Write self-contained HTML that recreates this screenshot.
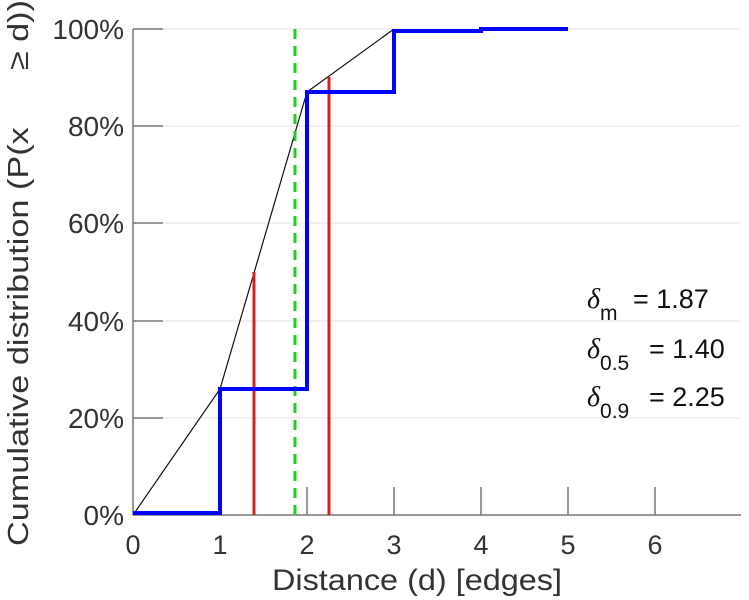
<!DOCTYPE html>
<html><head><meta charset="utf-8"><style>body{margin:0;background:#fff}svg{display:block}text{font-family:"Liberation Sans",sans-serif;fill:#333}</style></head><body>
<svg width="749" height="600" viewBox="0 0 749 600">
<g stroke="#e6e6e6" stroke-width="1">
<line x1="133" y1="29" x2="741" y2="29"/><line x1="133" y1="126" x2="741" y2="126"/><line x1="133" y1="223" x2="741" y2="223"/><line x1="133" y1="321" x2="741" y2="321"/><line x1="133" y1="418" x2="741" y2="418"/>
</g>
<g stroke="#777" stroke-width="1.5">
<line x1="133" y1="29" x2="133" y2="515"/><line x1="133" y1="515" x2="741" y2="515"/>
<line x1="133" y1="29" x2="163" y2="29"/><line x1="133" y1="126" x2="163" y2="126"/><line x1="133" y1="223" x2="163" y2="223"/><line x1="133" y1="321" x2="163" y2="321"/><line x1="133" y1="418" x2="163" y2="418"/>
<line x1="220" y1="487" x2="220" y2="515"/><line x1="307" y1="487" x2="307" y2="515"/><line x1="394" y1="487" x2="394" y2="515"/><line x1="481" y1="487" x2="481" y2="515"/><line x1="568" y1="487" x2="568" y2="515"/><line x1="655" y1="487" x2="655" y2="515"/>
</g>
<g font-size="28" text-anchor="end">
<text x="124" y="39">100%</text><text x="124" y="136">80%</text><text x="124" y="233">60%</text><text x="124" y="331">40%</text><text x="124" y="428">20%</text><text x="124" y="525">0%</text>
</g>
<g font-size="27" text-anchor="middle">
<text x="133" y="554">0</text><text x="220" y="554">1</text><text x="307" y="554">2</text><text x="394" y="554">3</text><text x="481" y="554">4</text><text x="568" y="554">5</text><text x="655" y="554">6</text>
<text x="417" y="590" font-size="30" textLength="290" lengthAdjust="spacingAndGlyphs">Distance (d) [edges]</text>
</g>
<text transform="translate(28,546) rotate(-90)" font-size="29" xml:space="preserve" textLength="546" lengthAdjust="spacingAndGlyphs">Cumulative distribution (P(x      ≥ d))</text>
<polyline points="133,515 220,389 307,92 394,29" fill="none" stroke="#111" stroke-width="1.2"/>
<line x1="254" y1="515" x2="254" y2="272" stroke="#d42020" stroke-width="3"/>
<line x1="329" y1="515" x2="329" y2="77" stroke="#d42020" stroke-width="3"/>
<line x1="295" y1="515" x2="295" y2="29" stroke="#22cc22" stroke-width="3" stroke-dasharray="10,7"/>
<polyline points="133,513 220,513 220,389 307,389 307,92 394,92 394,31 481,31 481,29 568,29" fill="none" stroke="#0000ff" stroke-width="4"/>
<g font-size="27">
<text x="587" y="308" style="fill:#111"><tspan font-family="Liberation Serif" font-style="italic" font-size="28">δ</tspan><tspan font-size="21" dy="12">m</tspan><tspan dy="-12" x="633">= 1.87</tspan></text>
<text x="587" y="358" style="fill:#111"><tspan font-family="Liberation Serif" font-style="italic" font-size="28">δ</tspan><tspan font-size="21" dy="12">0.5</tspan><tspan dy="-12" x="649">= 1.40</tspan></text>
<text x="587" y="406" style="fill:#111"><tspan font-family="Liberation Serif" font-style="italic" font-size="28">δ</tspan><tspan font-size="21" dy="12">0.9</tspan><tspan dy="-12" x="649">= 2.25</tspan></text>
</g>
</svg>
</body></html>
